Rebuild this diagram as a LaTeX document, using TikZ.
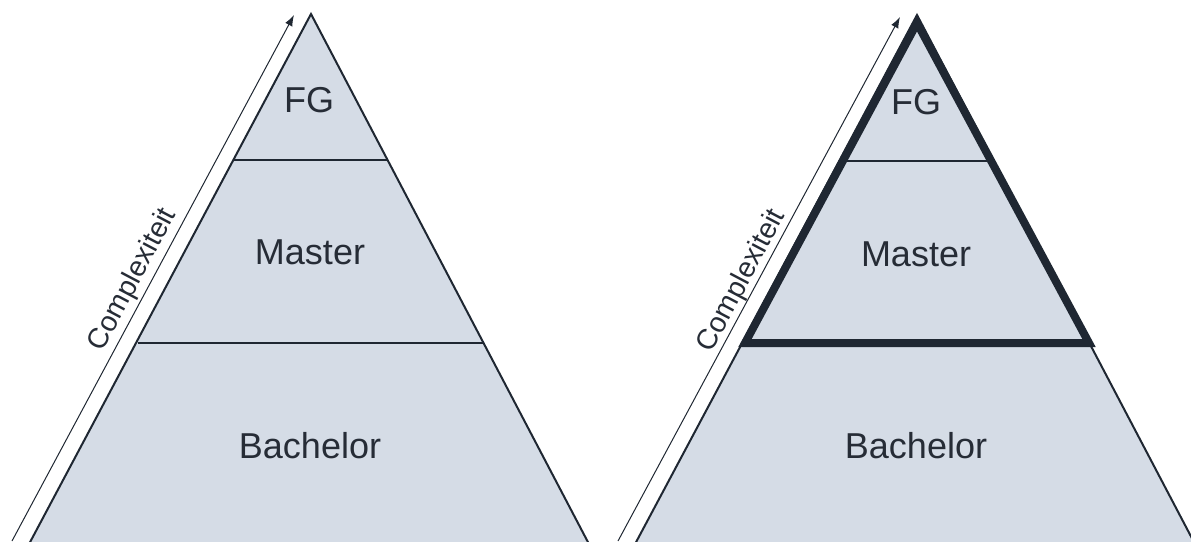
\documentclass[tikz,border=0pt]{standalone}
\usepackage{fontspec}
\setmainfont{Liberation Sans}
\usetikzlibrary{arrows.meta}
\definecolor{pfill}{HTML}{D5DCE6}
\definecolor{pline}{HTML}{1F2732}
\definecolor{ptext}{HTML}{262C36}
\tikzset{
  tri/.style={fill=pfill, draw=pline, line width=2pt, line join=miter},
  divider/.style={draw=pline, line width=2pt},
  thickline/.style={draw=pline, line width=8pt, line join=miter, miter limit=10},
  lvl/.style={text=ptext, font=\fontsize{36}{42}\selectfont, anchor=base, inner sep=0pt},
  cplx/.style={text=ptext, font=\fontsize{28.5}{32}\selectfont, rotate=62.2, inner sep=0pt},
  carrow/.style={draw=pline, line width=1pt, -{Latex[length=11pt,width=8pt]}}
}
\begin{document}
\begin{tikzpicture}[x=1pt,y=-1pt]
\useasboundingbox (0,0) rectangle (1191,541);
% ---------- left pyramid ----------
\coordinate (LA) at (311,14);
\coordinate (LBL) at (28,546);
\coordinate (LBR) at (590,546);
\coordinate (LF1) at (234,160);
\coordinate (LF2) at (388,160);
\coordinate (LM1) at (138,343);
\coordinate (LM2) at (484,343);
\draw[tri] (LA) -- (LBL) -- (LBR) -- cycle;
\draw[divider] (LF1) -- (LF2);
\draw[divider] (LM1) -- (LM2);
\node[lvl] (lfg) at (309,112) {FG};
\node[lvl] (lma) at (310,264) {Master};
\node[lvl] (lba) at (310,458) {Bachelor};
\coordinate (LS) at (12,541);
\coordinate (LT) at (294,15);
\draw[carrow] (LS) -- (LT);
\node[cplx] (lcx) at (133,280) {Complexiteit};
% ---------- right pyramid ----------
\coordinate (RA) at (917,15);
\coordinate (RBL) at (634,546);
\coordinate (RBR) at (1196,546);
\coordinate (RF1) at (840,161);
\coordinate (RF2) at (994,161);
\coordinate (RA2) at (917,23);
\coordinate (RM1) at (745,343);
\coordinate (RM2) at (1089,343);
\draw[tri] (RA) -- (RBL) -- (RBR) -- cycle;
\draw[divider] (RF1) -- (RF2);
\draw[thickline] (RA2) -- (RM1) -- (RM2) -- cycle;
\node[lvl] (rfg) at (916,114) {FG};
\node[lvl] (rma) at (916,266) {Master};
\node[lvl] (rba) at (916,458) {Bachelor};
\coordinate (RS) at (618,541);
\coordinate (RT) at (900,17);
\draw[carrow] (RS) -- (RT);
\node[cplx] (rcx) at (742,281) {Complexiteit};
\end{tikzpicture}
\end{document}
